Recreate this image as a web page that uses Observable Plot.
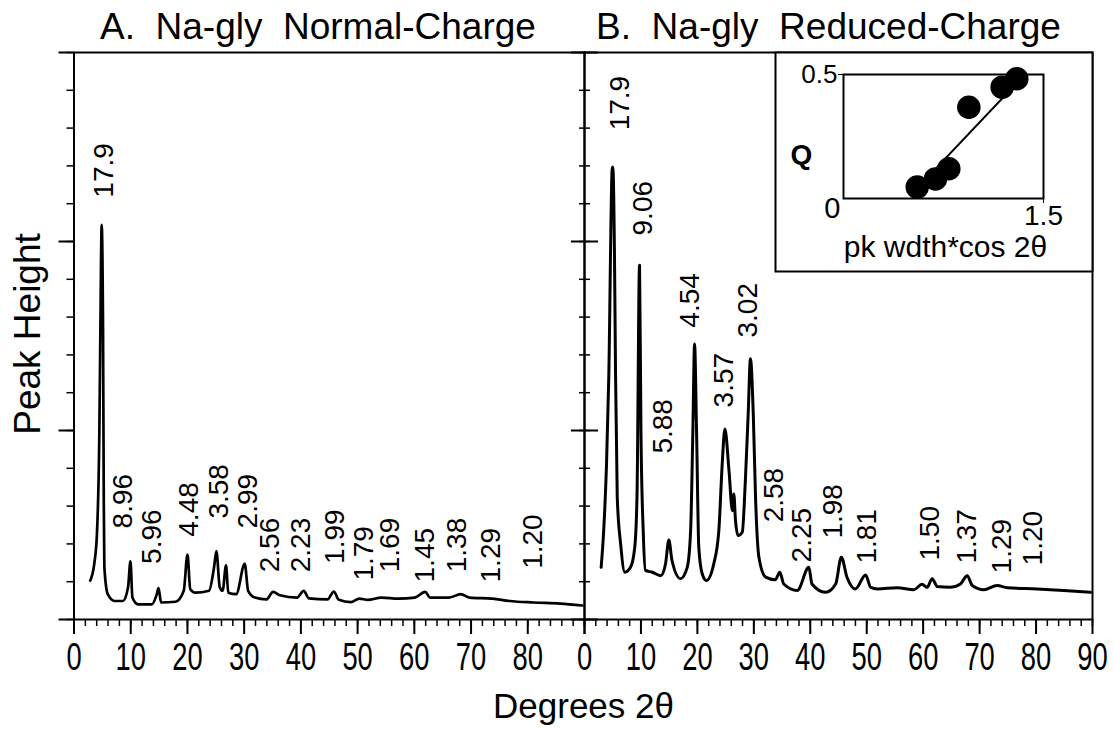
<!DOCTYPE html>
<html><head><meta charset="utf-8">
<script src="https://cdn.jsdelivr.net/npm/d3@7"></script>
<script src="https://cdn.jsdelivr.net/npm/@observablehq/plot@0.6"></script>
<style>
html,body{margin:0;padding:0;background:#fff;}
#chart{position:relative;width:1114px;height:729px;overflow:hidden;background:#fff;}
#chart svg{position:absolute;left:0;top:0;overflow:visible;background:transparent;}
#chart text{white-space:pre;}
</style></head><body><div id="chart"></div>
<script>
// ---------- data ----------
const titles = ["A.  Na-gly  Normal-Charge", "B.  Na-gly  Reduced-Charge"];
const yLabel = "Peak Height";
const xLabel = "Degrees 2\u03b8";
const insetXLabel = "pk wdth*cos 2\u03b8";
const insetYLabel = "Q";

const xMinorTicks = d3.range(0, 91, 2);
const xMajorTicks = [0, 10, 20, 30, 40, 50, 60, 70, 80, 90];
const yMinorTicks = d3.range(0, 16, 1);
const yMajorTicks = [0, 5, 10, 15];

// Panel A: Normal-Charge trace (2theta, height)
const normalDeg = [2.86,3.57,4.05,4.47,4.65,4.88,5.12,5.25,5.35,5.95,7.15,8.63,9.53,9.95,10.3,11.3,13.7,14.6,14.9,15.36,17.9,19.35,20.0,20.5,21.4,23.8,24.7,25.1,25.7,26.2,26.8,27.2,28.6,30.1,30.7,31.9,33.9,35.1,36.3,39.3,40.5,41.4,44.7,45.8,46.7,48.8,50.3,51.8,54.2,57.2,60.1,61.9,62.8,66.1,68.2,69.7,73.8,76.8,81.0,85.7,89.6];
const normalHeight = [1.03,1.47,2.28,4.96,7.65,10.44,7.65,3.17,1.39,0.67,0.49,0.49,0.85,1.54,0.58,0.40,0.40,0.67,0.83,0.45,0.47,0.76,1.72,0.80,0.71,0.76,1.39,1.81,0.85,0.76,1.43,0.71,0.67,1.47,0.76,0.58,0.53,0.73,0.64,0.58,0.76,0.56,0.53,0.74,0.52,0.46,0.55,0.52,0.58,0.55,0.58,0.73,0.58,0.58,0.67,0.58,0.55,0.49,0.45,0.42,0.37];
const normalPeakText = ["17.9","8.96","5.96","4.48","3.58","2.99","2.56","2.23","1.99","1.79","1.69","1.45","1.38","1.29","1.20"];
const normalPeakDeg = [5.37,8.63,13.7,20.25,25.6,30.7,34.5,40.1,46.1,51.2,55.7,61.9,67.6,73.5,81.0];
const normalPeakHeight = [11.16,2.41,1.47,2.19,2.67,2.41,1.25,1.25,1.47,1.03,1.25,0.98,1.25,0.98,1.34];

// Panel B: Reduced-Charge trace
const reducedDeg = [2.95,3.4,3.9,4.3,4.9,5.02,5.3,5.5,5.8,6.4,7.15,8.15,8.9,9.3,9.75,10.0,10.4,10.8,12.0,13.5,14.35,14.95,15.5,17.0,18.2,18.8,19.2,19.5,19.85,20.25,20.85,21.6,22.9,23.8,24.4,24.87,25.6,26.2,26.45,26.75,27.2,27.95,28.5,29.0,29.4,29.9,30.3,30.9,32.1,33.8,34.6,35.3,37.7,39.75,40.3,42.7,44.5,45.5,46.5,48.0,49.8,50.7,51.9,55.4,58.35,59.8,60.7,61.6,62.5,64.85,66.6,67.8,68.7,70.75,73.1,74.9,80.2,84.9,89.65];
const reducedHeight = [1.38,2.35,4.1,6.4,11.9,11.97,9.8,6.5,3.24,2.0,1.25,1.38,1.91,3.24,9.37,5.0,2.35,1.30,1.25,1.16,1.47,2.1,1.56,1.08,1.38,2.35,5.0,7.29,5.0,1.91,1.21,1.03,1.47,2.35,4.12,5.04,3.94,2.88,3.32,2.62,2.22,2.31,3.68,5.44,6.9,5.44,3.24,1.65,1.12,1.05,1.25,0.94,0.77,1.38,0.94,0.72,0.94,1.65,1.12,0.81,1.18,0.85,0.81,0.84,0.79,0.93,0.85,1.08,0.87,0.85,0.94,1.16,0.9,0.79,0.9,0.84,0.81,0.77,0.72];
const reducedPeakText = ["17.9","9.06","4.54","3.02","5.88","3.57","2.58","2.25","1.98","1.81","1.50","1.37","1.29","1.20"];
const reducedPeakDeg = [6.38,10.45,18.78,29.05,13.99,24.8,33.5,38.6,44.1,50.1,61.3,67.7,74.0,79.5];
const reducedPeakHeight = [12.94,10.16,7.72,7.46,4.39,5.61,2.57,1.51,2.14,1.48,1.56,1.48,1.22,1.43];

// Inset: Q vs peak width * cos 2theta
const insetWidth = [0.553,0.69,0.79,0.94,1.19,1.30];
const insetQ = [0.046,0.079,0.12,0.368,0.449,0.483];
const fitWidth = [0.55,1.36];
const fitQ = [0.04,0.50];

// ---------- build ----------
const W = 1114, H = 729;
const FONT = '"Liberation Sans", Arial, Helvetica, sans-serif';
const zip = (a, b) => a.map((v, i) => ({x: v, y: b[i]}));
const zipT = (t, a, b) => t.map((s, i) => ({t: s, x: a[i], y: b[i]}));

function condense(svg, selector, sx) {
  d3.select(svg).selectAll(selector).each(function() {
    const x = parseFloat(this.getAttribute("x")) || 0;
    const tr = this.getAttribute("transform") || "";
    this.setAttribute("transform", `${tr} translate(${x},0) scale(${sx},1) translate(${-x},0)`);
  });
}

function panel(opts) {
  const {ml, mr, deg, h, ptext, pdeg, ph, title, titleDx, isLeft} = opts;
  const marks = [
    Plot.line(zip(deg, h), {x: "x", y: "y", stroke: "black", strokeWidth: isLeft ? 2.7 : 3, strokeLinejoin: "round", curve: "monotone-x"}),
    Plot.text(zipT(ptext, pdeg, ph), {x: "x", y: "y", text: "t", rotate: -90, textAnchor: "start", lineAnchor: "middle", fontSize: 28, fill: "black"}),
    Plot.axisX({ticks: xMinorTicks, tickSize: 7, tickFormat: () => "", label: null, strokeWidth: 1.5}),
    Plot.axisX({ticks: xMajorTicks, tickSize: 15, tickPadding: 9, label: null, strokeWidth: 2,
      tickFormat: d => (isLeft && d === 90) ? "" : String(d), fontSize: 38, className: "xlab"}),
    Plot.frame({stroke: "black", strokeWidth: 2}),
    Plot.text([title], {frameAnchor: "top-left", dx: titleDx, dy: -14, textAnchor: "start", lineAnchor: "bottom", fontSize: 37, text: d => d, fill: "black"})
  ];
  if (isLeft) {
    marks.push(
      Plot.axisY({anchor: "left", ticks: yMinorTicks, tickSize: 7, tickFormat: () => "", label: null, strokeWidth: 1.5}),
      Plot.axisY({anchor: "left", ticks: yMajorTicks, tickSize: 15, tickFormat: () => "", label: null, strokeWidth: 2}),
      Plot.axisY({anchor: "right", ticks: yMinorTicks, tickSize: -6, tickFormat: () => "", label: null, strokeWidth: 1.5}),
      Plot.axisY({anchor: "right", ticks: yMajorTicks, tickSize: -14, tickFormat: () => "", label: null, strokeWidth: 2}),
      Plot.text([yLabel], {frameAnchor: "left", dx: 39 - ml, dy: -2, rotate: -90, textAnchor: "middle", lineAnchor: "bottom", fontSize: 37, text: d => d, fill: "black"}),
      Plot.text([xLabel], {frameAnchor: "bottom-right", dx: -1, dy: 98, textAnchor: "middle", lineAnchor: "bottom", fontSize: 35, text: d => d, fill: "black"})
    );
  } else {
    marks.push(
      Plot.axisY({anchor: "left", ticks: yMinorTicks, tickSize: -6, tickFormat: () => "", label: null, strokeWidth: 1.5}),
      Plot.axisY({anchor: "left", ticks: yMajorTicks, tickSize: -14, tickFormat: () => "", label: null, strokeWidth: 2})
    );
  }
  return Plot.plot({
    width: W, height: H, marginLeft: ml, marginRight: mr, marginTop: 52, marginBottom: 110,
    x: {domain: [0, 90], label: null}, y: {domain: [0, 15], label: null},
    style: {fontFamily: FONT, background: "transparent", overflow: "visible", color: "black"},
    marks
  });
}

const chart = document.getElementById("chart");
const left = panel({ml: 73.5, mr: W - 584, deg: normalDeg, h: normalHeight, ptext: normalPeakText, pdeg: normalPeakDeg, ph: normalPeakHeight, title: titles[0], titleDx: 26, isLeft: true});
const right = panel({ml: 584, mr: W - 1092, deg: reducedDeg, h: reducedHeight, ptext: reducedPeakText, pdeg: reducedPeakDeg, ph: reducedPeakHeight, title: titles[1], titleDx: 11.6, isLeft: false});

const insetBox = Plot.plot({
  width: W, height: H, marginLeft: 775, marginRight: W - 1092, marginTop: 52, marginBottom: H - 271,
  x: {axis: null}, y: {axis: null},
  style: {background: "transparent", overflow: "visible"},
  marks: [Plot.frame({fill: "white", stroke: "black", strokeWidth: 2})]
});

const inset = Plot.plot({
  width: W, height: H, marginLeft: 843, marginRight: W - 1043, marginTop: 74, marginBottom: H - 198,
  x: {domain: [0, 1.5], label: null}, y: {domain: [0, 0.5], label: null},
  style: {fontFamily: FONT, background: "transparent", overflow: "visible", color: "black"},
  marks: [
    Plot.frame({stroke: "black", strokeWidth: 2}),
    Plot.line(zip(fitWidth, fitQ), {x: "x", y: "y", stroke: "black", strokeWidth: 2}),
    Plot.dot(zip(insetWidth, insetQ), {x: "x", y: "y", r: 11, fill: "black", stroke: "black"}),
    Plot.axisY({ticks: [0.5], tickSize: 5, tickPadding: 1, tickFormat: d => String(d), fontSize: 26, label: null}),
    Plot.axisX({ticks: [1.5], tickSize: 5, tickPadding: 2, tickFormat: d => String(d), fontSize: 28, label: null}),
    Plot.text(["0"], {frameAnchor: "bottom-left", dx: -3, dy: -1, textAnchor: "end", lineAnchor: "top", fontSize: 29, text: d => d, fill: "black"}),
    Plot.text([insetXLabel], {frameAnchor: "bottom", dx: 2, dy: 58, textAnchor: "middle", lineAnchor: "bottom", fontSize: 30, text: d => d, fill: "black"}),
    Plot.text([insetYLabel], {frameAnchor: "left", dx: -42, dy: 19, textAnchor: "middle", lineAnchor: "middle", fontSize: 28, fontWeight: "bold", text: d => d, fill: "black"})
  ]
});

for (const s of [left, right, insetBox, inset]) chart.appendChild(s);
condense(left, ".xlab text", 0.72);
condense(right, ".xlab text", 0.72);
</script>
</body></html>
